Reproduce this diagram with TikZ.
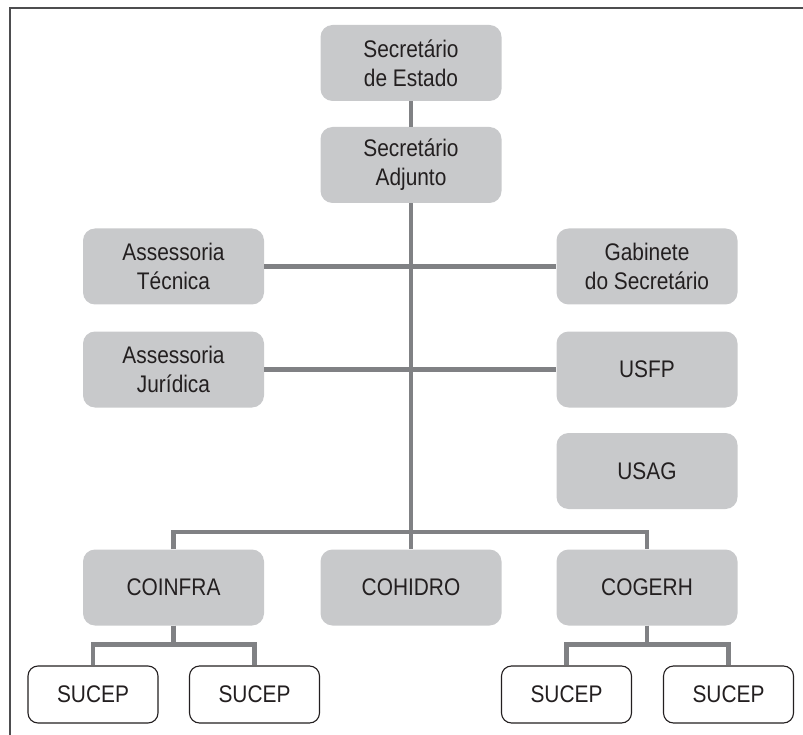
\documentclass[tikz,border=0pt]{standalone}
\usepackage{fontspec}
\setmainfont[FakeStretch=0.87]{Liberation Sans}
\definecolor{boxgray}{HTML}{C8C9CB}
\definecolor{linegray}{HTML}{808184}
\definecolor{txt}{HTML}{231F20}
\definecolor{frame}{HTML}{4D4D4F}
\begin{document}
\begin{tikzpicture}[x=1pt,y=-1pt,
  gbox/.style={fill=boxgray, rounded corners=12pt, minimum width=181pt, minimum height=76pt,
    align=center, text=txt, inner sep=0pt, font=\fontsize{24}{29}\selectfont},
  wbox/.style={draw=txt, line width=1.1pt, fill=white, rounded corners=10pt, minimum width=130pt,
    minimum height=57pt, align=center, text=txt, inner sep=0pt, font=\fontsize{24}{29}\selectfont},
  conn/.style={draw=linegray, line width=4.5pt},
  framel/.style={draw=frame, line width=2pt}]
\useasboundingbox (0,0) rectangle (803,735);
% frame
\coordinate (ftl) at (10,8);
\coordinate (ftr) at (803,8);
\coordinate (fbl) at (10,735);
\draw[framel] (ftr) -- (ftl) -- (fbl);
% boxes
\node[gbox] (sde) at (411,63) {Secretário\\de Estado};
\node[gbox] (sa) at (411,165) {Secretário\\Adjunto};
\node[gbox] (at) at (173.5,266.5) {Assessoria\\Técnica};
\node[gbox] (gab) at (647,266.5) {Gabinete\\do Secretário};
\node[gbox] (aj) at (173.5,369.5) {Assessoria\\Jurídica};
\node[gbox] (usfp) at (647,369.5) {USFP};
\node[gbox] (usag) at (647,471) {USAG};
\node[gbox] (coinfra) at (173.5,587.5) {COINFRA};
\node[gbox] (cohidro) at (411,587.5) {COHIDRO};
\node[gbox] (cogerh) at (647,587.5) {COGERH};
\node[wbox] (s1) at (93,694.5) {SUCEP};
\node[wbox] (s2) at (254.5,694.5) {SUCEP};
\node[wbox] (s3) at (566.5,694.5) {SUCEP};
\node[wbox] (s4) at (728.5,694.5) {SUCEP};
% connectors
\coordinate (bar) at (411,532);
\draw[conn] (at.east) -- (gab.west);
\draw[conn] (aj.east) -- (usfp.west);
\draw[conn] (sde.south) -- (sa.north);
\draw[conn] (sa.south) -- (cohidro.north);
\draw[conn] (coinfra.north) |- (bar) -| (cogerh.north);
\draw[conn] (coinfra.south) -- ++(0,19) -| (s1.north);
\draw[conn] (coinfra.south) -- ++(0,19) -| (s2.north);
\draw[conn] (cogerh.south) -- ++(0,19) -| (s3.north);
\draw[conn] (cogerh.south) -- ++(0,19) -| (s4.north);
\end{tikzpicture}
\end{document}
